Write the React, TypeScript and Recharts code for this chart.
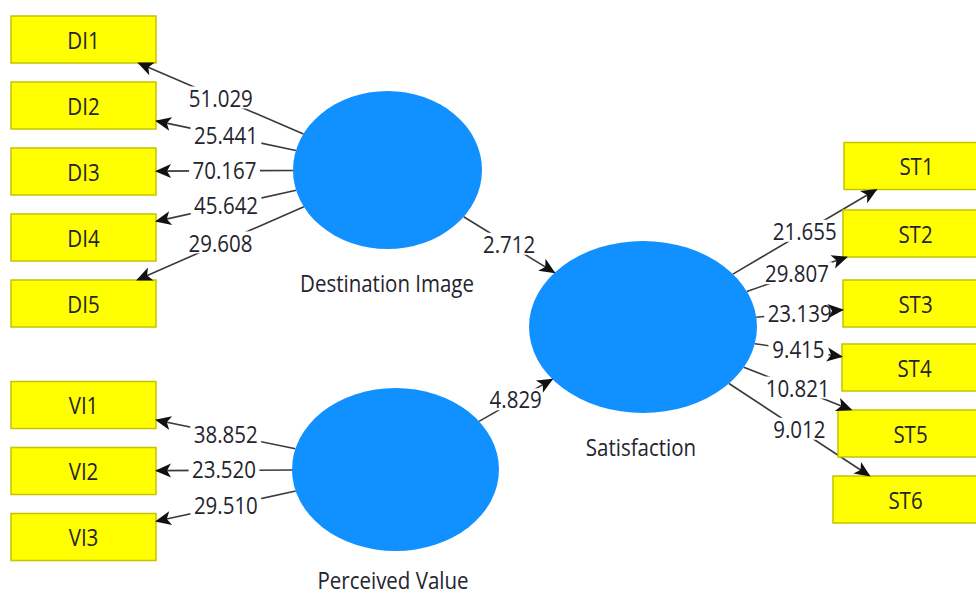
import { Scatter, ScatterChart, XAxis, YAxis } from "recharts";

// indicators and bootstrap t-values (outer model)
const diItems = ["DI1", "DI2", "DI3", "DI4", "DI5"];
const diTValues = [51.029, 25.441, 70.167, 45.642, 29.608];
const viItems = ["VI1", "VI2", "VI3"];
const viTValues = [38.852, 23.52, 29.51];
const stItems = ["ST1", "ST2", "ST3", "ST4", "ST5", "ST6"];
const stTValues = [21.655, 29.807, 23.139, 9.415, 10.821, 9.012];

// constructs and inner model t-values
const constructs = ["Destination Image", "Perceived Value", "Satisfaction"];
const pathSources = ["Destination Image", "Perceived Value"];
const pathTarget = "Satisfaction";
const pathTValues = [2.712, 4.829];

// layout of the diagram (pixel space of the 976x594 canvas)
const W = 976;
const H = 594;
const BOX_W = 145;
const BOX_H = 47;
const constructLayout: Record<string, { x: number; y: number; rx: number; ry: number; labelX: number; labelY: number }> = {
  "Destination Image": { x: 387.5, y: 170, rx: 94.5, ry: 79, labelX: 387, labelY: 283 },
  "Perceived Value": { x: 395.5, y: 469.5, rx: 103.5, ry: 81.5, labelX: 393, labelY: 580 },
  Satisfaction: { x: 643, y: 327, rx: 114, ry: 86, labelX: 641, labelY: 447 }
};
const diBoxLeft = [11, 11, 11, 11, 11];
const diBoxY = [39.5, 105.5, 171.5, 237.5, 303.5];
const viBoxLeft = [11, 11, 11];
const viBoxY = [405, 471, 537];
const stBoxLeft = [844, 843, 843, 842, 838, 833];
const stBoxY = [166, 233.5, 303.5, 367.5, 433.5, 499.5];

const FONT = "'Open Sans', 'Noto Sans', sans-serif";
const LINE = "#3a3a3a";
const BLUE = "#1190ff";

type Pt = { x: number; y: number };

const ellipseExit = (name: string, toward: Pt): Pt => {
  const c = constructLayout[name];
  const dx = toward.x - c.x;
  const dy = toward.y - c.y;
  const t = 1 / Math.sqrt((dx / c.rx) ** 2 + (dy / c.ry) ** 2);
  return { x: c.x + dx * t, y: c.y + dy * t };
};

const boxEntry = (box: Pt, from: Pt): Pt => {
  const dx = from.x - box.x;
  const dy = from.y - box.y;
  const s = Math.min(BOX_W / 2 / Math.abs(dx || 1e-9), BOX_H / 2 / Math.abs(dy || 1e-9));
  return { x: box.x + dx * s, y: box.y + dy * s };
};

const boxes = [
  ...diItems.map((name, i) => ({ name, x: diBoxLeft[i] + BOX_W / 2, y: diBoxY[i], construct: "Destination Image", t: diTValues[i] })),
  ...viItems.map((name, i) => ({ name, x: viBoxLeft[i] + BOX_W / 2, y: viBoxY[i], construct: "Perceived Value", t: viTValues[i] })),
  ...stItems.map((name, i) => ({ name, x: stBoxLeft[i] + BOX_W / 2, y: stBoxY[i], construct: "Satisfaction", t: stTValues[i] }))
];

const edges = [
  ...boxes.map((b) => {
    const c = constructLayout[b.construct];
    const start = ellipseExit(b.construct, b);
    const end = boxEntry(b, c);
    return { id: b.name, start, end, t: b.t };
  }),
  ...pathSources.map((src, i) => {
    const s = constructLayout[src];
    const tg = constructLayout[pathTarget];
    const start = ellipseExit(src, tg);
    const end = ellipseExit(pathTarget, s);
    return { id: src, start, end, t: pathTValues[i] };
  })
];

const arrowData = edges.map((e) => ({
  x: e.end.x,
  y: e.end.y,
  angle: (Math.atan2(e.end.y - e.start.y, e.end.x - e.start.x) * 180) / Math.PI
}));
const labelData = edges.map((e) => ({
  x: (e.start.x + e.end.x) / 2,
  y: (e.start.y + e.end.y) / 2 - 1,
  text: e.t.toFixed(3)
}));
const constructData = constructs.map((name) => ({ name, ...constructLayout[name] }));
const constructLabelData = constructs.map((name) => ({
  name,
  x: constructLayout[name].labelX,
  y: constructLayout[name].labelY
}));

const StretchedText = ({ x, y, children }: { x: number; y: number; children: string }) => (
  <text
    x={0}
    y={0}
    transform={`translate(${x},${y}) scale(1,1.18)`}
    textAnchor="middle"
    dominantBaseline="central"
    fontFamily={FONT}
    fontSize={20.5}
    fill="#24242e"
  >
    {children}
  </text>
);

const renderBox = (props: any) => {
  const { cx, cy, payload } = props;
  return (
    <g>
      <rect x={cx - BOX_W / 2} y={cy - BOX_H / 2} width={BOX_W} height={BOX_H} fill="#ffff00" stroke="#c4c400" strokeWidth={1.5} />
      <StretchedText x={cx} y={cy}>{payload.name}</StretchedText>
    </g>
  );
};

const renderEllipse = (props: any) => {
  const { cx, cy, payload } = props;
  return <ellipse cx={cx} cy={cy} rx={payload.rx} ry={payload.ry} fill={BLUE} />;
};

const renderArrow = (props: any) => {
  const { cx, cy, payload } = props;
  return (
    <polygon
      points="1,0 -15,-7 -11,0 -15,7"
      fill="#111"
      transform={`translate(${cx},${cy}) rotate(${payload.angle})`}
    />
  );
};

const renderLabel = (props: any) => {
  const { cx, cy, payload } = props;
  const w = payload.text.length * 10.8 + 6;
  return (
    <g>
      <rect x={cx - w / 2} y={cy - 11} width={w} height={22} fill="#ffffff" />
      <StretchedText x={cx} y={cy}>{payload.text}</StretchedText>
    </g>
  );
};

const renderConstructLabel = (props: any) => {
  const { cx, cy, payload } = props;
  return <StretchedText x={cx} y={cy}>{payload.name}</StretchedText>;
};

const noDot = () => <g />;

export default function App() {
  return (
    <div style={{ position: "fixed", left: 0, top: 0, width: W, height: H, background: "#ffffff" }}>
      <ScatterChart width={W} height={H} margin={{ top: 0, right: 0, bottom: 0, left: 0 }}>
        <XAxis type="number" dataKey="x" domain={[0, W]} allowDataOverflow hide />
        <YAxis type="number" dataKey="y" domain={[0, H]} allowDataOverflow reversed hide />
        {edges.map((e) => (
          <Scatter
            key={`edge-${e.id}`}
            data={[e.start, e.end]}
            line={{ stroke: LINE, strokeWidth: 1.6 }}
            shape={noDot}
            isAnimationActive={false}
          />
        ))}
        <Scatter data={labelData} shape={renderLabel} isAnimationActive={false} />
        <Scatter data={boxes} shape={renderBox} isAnimationActive={false} />
        <Scatter data={constructData} shape={renderEllipse} isAnimationActive={false} />
        <Scatter data={arrowData} shape={renderArrow} isAnimationActive={false} />
        <Scatter data={constructLabelData} shape={renderConstructLabel} isAnimationActive={false} />
      </ScatterChart>
    </div>
  );
}
